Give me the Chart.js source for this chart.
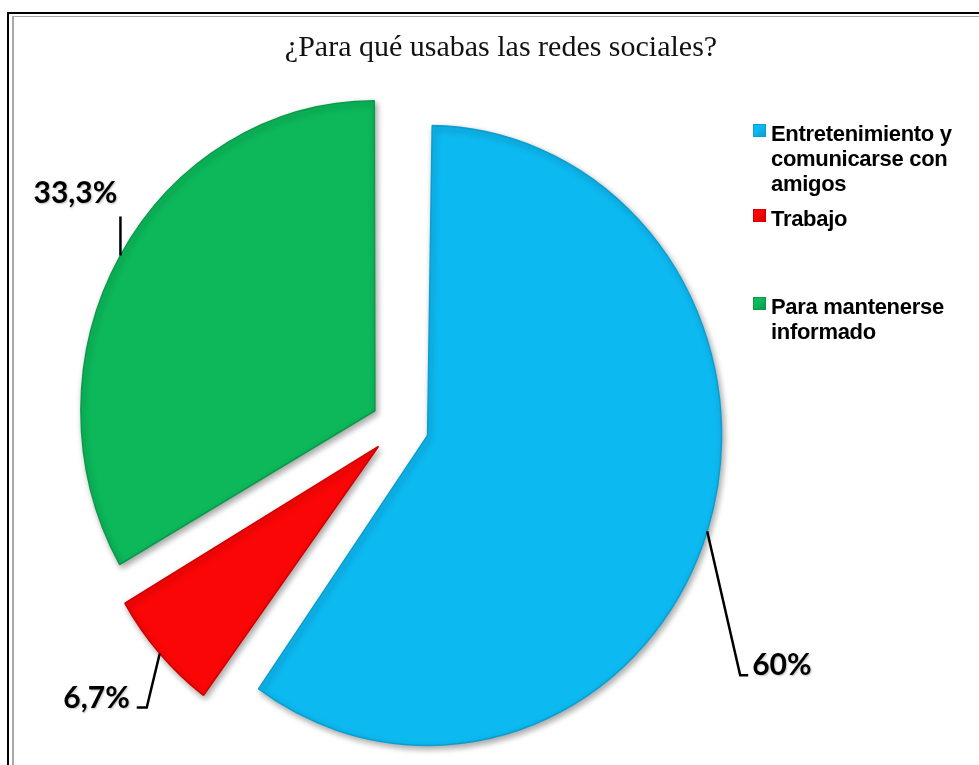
<!DOCTYPE html>
<html lang="es">
<head>
<meta charset="utf-8">
<title>¿Para qué usabas las redes sociales?</title>
<script src="https://cdn.jsdelivr.net/npm/chart.js@4.4.1/dist/chart.umd.min.js"></script>
<style>
  html, body { margin: 0; padding: 0; background: #fff; overflow: hidden; }
  #wrap { position: relative; width: 979px; height: 765px; overflow: hidden; }
  #frame { position: absolute; left: 7px; top: 12px; width: 1000px; height: 800px;
           border-left: 2.5px solid #000; border-top: 2.5px solid #000; box-sizing: border-box; }
  #frame::after { content: ''; position: absolute; left: 2.5px; top: 1.5px; right: 0; bottom: 0;
                  border-left: 2px solid #a8a8a8; border-top: 1.5px solid #a8a8a8; }
  #chart { position: absolute; left: 0; top: 0; }
  #title { position: absolute; left: 0; width: 1002px; top: 31px; text-align: center;
           font: 30px/30px "Liberation Serif", serif; color: #111; }
  #legend { position: absolute; left: 753px; top: 0; width: 226px;
            font: bold 22px/25px "Liberation Sans", Arial, sans-serif; letter-spacing: -0.3px; color: #000; }
  #legend .item { position: absolute; left: 0; width: 222px; }
  #legend .box { position: absolute; left: 0; top: 3px; width: 11px; height: 11px; }
  #legend .txt { margin-left: 18px; width: 200px; }
</style>
</head>
<body>
<div id="wrap">
  <div id="frame"></div>
  <canvas id="chart" width="979" height="765"></canvas>
  <div id="title">¿Para qué usabas las redes sociales?</div>
  <div id="legend"></div>
</div>
<script>
const categories = ['Entretenimiento y comunicarse con amigos', 'Trabajo', 'Para mantenerse informado'];
const values = [60, 6.7, 33.3];
const sliceColors = ['#0DB9F1', '#FB0606', '#0CB85A'];
const edgeColors = ['#0A9FD2', '#D20000', '#099A4A'];

// pie radius, vertical stretch (the original is a bit taller than wide) and pull-out, px
const PIE_R = 294;
const STRETCH_Y = 1.054;
const EXPLODE = 29;
// legend rows: top of each entry
const legendTops = [121, 206, 294];
// leader line + label placement, relative to the slice's outer mid point
const leaders = [
  { dx: 33, dy: 144, tail: 8, align: 'left', tx: 12, ty: 0 },
  { dx: -13, dy: 54, tail: -10, align: 'right', tx: -17, ty: 0 },
  { dx: 0, dy: -39, tail: 0, align: 'center', tx: -45, ty: -13 }
];

// this Chart.js build shifts an arc by offset/4 and grows its radius by offset/4*fix
const offsets = values.map(() => EXPLODE * 4);
const arcFix = circ => 1 - Math.sin(Math.min(Math.PI, circ));

const fmtPct = v => String(v).replace('.', ',') + '%';

const piePlugin = {
  id: 'pieExtras',
  beforeDatasetsDraw(chart) {
    const arcs = chart.getDatasetMeta(0).data;
    // keep all slices the same size after the pull-out
    arcs.forEach(arc => {
      arc.outerRadius = PIE_R - EXPLODE * arcFix(arc.circumference);
    });
    const ctx = chart.ctx;
    const cx = arcs[0].x, cy = arcs[0].y;
    ctx.save();
    ctx.translate(cx, cy);
    ctx.scale(1, STRETCH_Y);
    ctx.translate(-cx, -cy);
    ctx.shadowColor = 'rgba(0,0,0,0.35)';
    ctx.shadowBlur = 6;
    ctx.shadowOffsetX = 2;
    ctx.shadowOffsetY = 3;
  },
  afterDatasetsDraw(chart) {
    const ctx = chart.ctx;
    ctx.restore();
    const arcs = chart.getDatasetMeta(0).data;
    arcs.forEach((arc, i) => {
      const p = arc.getProps(['x', 'y', 'startAngle', 'endAngle'], true);
      const mid = (p.startAngle + p.endAngle) / 2;
      const ax = p.x + Math.cos(mid) * (EXPLODE + PIE_R);
      const ay = p.y + Math.sin(mid) * (EXPLODE + PIE_R) * STRETCH_Y;
      const L = leaders[i];
      const ex = ax + L.dx, ey = ay + L.dy;

      ctx.save();
      ctx.strokeStyle = '#000';
      ctx.lineWidth = 2.5;
      ctx.beginPath();
      ctx.moveTo(ax, ay);
      ctx.lineTo(ex, ey);
      if (L.tail) ctx.lineTo(ex + L.tail, ey);
      ctx.stroke();

      ctx.font = 'bold 30px Lato, "Open Sans", sans-serif';
      ctx.fillStyle = '#000';
      ctx.textAlign = L.align;
      ctx.textBaseline = 'alphabetic';
      ctx.shadowColor = 'rgba(0,0,0,0.25)';
      ctx.shadowBlur = 2;
      ctx.shadowOffsetX = 1;
      ctx.shadowOffsetY = 1;
      ctx.fillText(fmtPct(values[i]), ex + L.tx, ey + L.ty);
      ctx.restore();
    });
  }
};

const ctx = document.getElementById('chart').getContext('2d');
new Chart(ctx, {
  type: 'pie',
  data: {
    labels: categories,
    datasets: [{
      data: values,
      backgroundColor: sliceColors,
      borderColor: edgeColors,
      borderWidth: 1.5,
      offset: offsets,
      hoverOffset: 0,
      clip: false
    }]
  },
  options: {
    responsive: false,
    animation: false,
    events: [],
    radius: PIE_R,
    layout: { padding: { left: 0, right: 179, top: 87, bottom: 0 } },
    plugins: {
      legend: { display: false },
      title: { display: false },
      tooltip: { enabled: false }
    }
  },
  plugins: [piePlugin]
});

// legend built from the same arrays
const legend = document.getElementById('legend');
categories.forEach((c, i) => {
  const item = document.createElement('div');
  item.className = 'item';
  item.style.top = legendTops[i] + 'px';
  const box = document.createElement('div');
  box.className = 'box';
  box.style.background = `linear-gradient(135deg, ${sliceColors[i]} 40%, ${edgeColors[i]})`;
  box.style.border = `1px solid ${edgeColors[i]}`;
  const txt = document.createElement('div');
  txt.className = 'txt';
  txt.textContent = c;
  item.appendChild(box);
  item.appendChild(txt);
  legend.appendChild(item);
});
</script>
</body>
</html>
